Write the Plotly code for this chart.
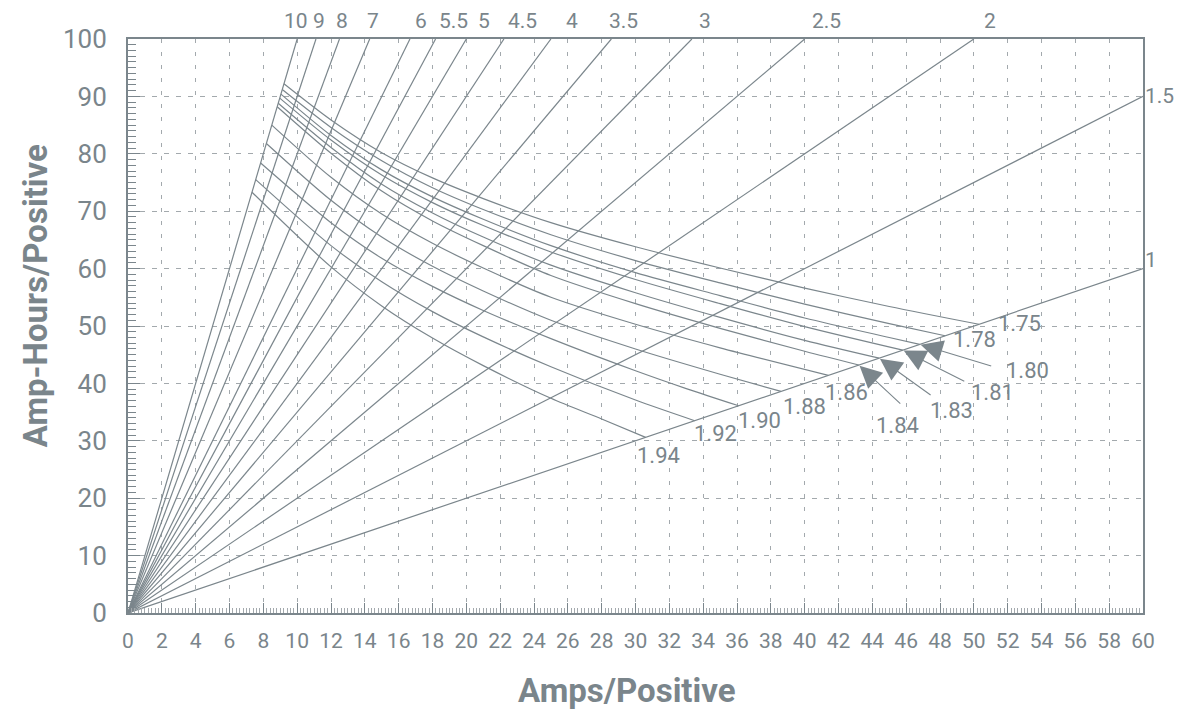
import plotly.graph_objects as go

# ---------------- data ----------------
hours = [10, 9, 8, 7, 6, 5.5, 5, 4.5, 4, 3.5, 3, 2.5, 2, 1.5, 1]
hour_labels = ["10", "9", "8", "7", "6", "5.5", "5", "4.5", "4", "3.5", "3", "2.5", "2", "1.5", "1"]

volt_labels = ["1.75", "1.78", "1.80", "1.81", "1.83", "1.84", "1.86", "1.88", "1.90", "1.92", "1.94"]

amps_175 = [9.22, 12, 15, 18, 21, 25, 30, 35, 40, 45, 50.3]
ah_175 = [92.2, 85.9, 80.2, 75.8, 72.2, 68.0, 63.8, 60.1, 56.6, 53.4, 50.3]
amps_178 = [9.12, 12, 15, 18, 21, 25, 30, 35, 40, 45, 48.3]
ah_178 = [91.2, 84.6, 78.8, 74.1, 70.3, 65.9, 61.4, 57.5, 53.8, 50.4, 48.3]
amps_180 = [9.04, 12, 15, 18, 21, 25, 30, 35, 40, 45, 46.8]
ah_180 = [90.4, 83.2, 77.2, 72.5, 68.6, 64.0, 59.3, 55.3, 51.4, 48.0, 46.8]
amps_181 = [8.97, 12, 15, 18, 21, 25, 30, 35, 40, 45.8]
ah_181 = [89.7, 82.4, 76.3, 71.5, 67.5, 62.9, 58.1, 53.9, 49.9, 45.8]
amps_183 = [8.88, 12, 15, 18, 21, 25, 30, 35, 40, 44.4]
ah_183 = [88.8, 81.1, 74.7, 69.7, 65.5, 60.6, 55.8, 51.5, 47.5, 44.4]
amps_184 = [8.82, 12, 15, 18, 21, 25, 30, 35, 40, 43.2]
ah_184 = [88.2, 80.1, 73.5, 68.3, 64.0, 58.8, 53.9, 49.6, 45.6, 43.2]
amps_186 = [8.5, 12, 15, 18, 21, 25, 30, 35, 41.4]
ah_186 = [85.0, 75.9, 69.5, 64.4, 60.1, 55.0, 50.3, 46.2, 41.4]
amps_188 = [8.18, 12, 15, 18, 21, 25, 30, 35, 38.6]
ah_188 = [81.8, 71.9, 65.5, 60.4, 56.1, 51.0, 46.0, 41.6, 38.6]
amps_190 = [7.84, 12, 15, 18, 21, 25, 30, 33, 36.1]
ah_190 = [78.4, 68.0, 61.8, 56.9, 52.7, 47.8, 42.2, 39.1, 36.1]
amps_192 = [7.55, 12, 15, 18, 21, 25, 30, 33.5]
ah_192 = [75.5, 64.0, 57.7, 52.5, 48.1, 42.9, 37.1, 33.5]
amps_194 = [7.33, 12, 15, 18, 21, 25, 28, 30.6]
ah_194 = [73.3, 60.3, 53.5, 47.9, 43.1, 37.4, 33.8, 30.6]

curves_amps = [amps_175, amps_178, amps_180, amps_181, amps_183, amps_184,
               amps_186, amps_188, amps_190, amps_192, amps_194]
curves_ah = [ah_175, ah_178, ah_180, ah_181, ah_183, ah_184,
             ah_186, ah_188, ah_190, ah_192, ah_194]

x_ticks = list(range(0, 61, 2))
y_ticks = list(range(0, 101, 10))
X_MAX, Y_MAX = 60, 100

# ---------------- style ----------------
GRAY = "#7b868c"
TXT = "#7a858b"
GRID = "#a3a9ad"
FONT = "Roboto, Liberation Sans, Arial, sans-serif"

# pixel offsets of the hour labels (layout only)
hour_label_xshift = [-1, 3, 3, 3, 11, 18, 18, 19, 21, 12, 13, 22, 16, 14, 10]

fig = go.Figure()

# radial hour lines
for h in hours:
    x_end = min(X_MAX, Y_MAX / h)
    fig.add_trace(go.Scatter(x=[0, x_end], y=[0, h * x_end], mode="lines",
                             line=dict(color=GRAY, width=1.2), hoverinfo="skip",
                             showlegend=False))

# voltage curves
for xs, ys in zip(curves_amps, curves_ah):
    fig.add_trace(go.Scatter(x=xs, y=ys, mode="lines",
                             line=dict(color=GRAY, width=1.2, shape="spline", smoothing=0.8),
                             hoverinfo="skip", showlegend=False))

annotations = []
# hour labels
for h, lab, dx in zip(hours, hour_labels, hour_label_xshift):
    if Y_MAX / h <= X_MAX:
        annotations.append(dict(x=Y_MAX / h, y=Y_MAX, text=lab, showarrow=False,
                                xanchor="center", yanchor="middle",
                                xshift=dx, yshift=18, font=dict(size=21, color=TXT, family=FONT)))
    else:
        annotations.append(dict(x=X_MAX, y=h * X_MAX, text=lab, showarrow=False,
                                xanchor="left", yanchor="middle", xshift=0,
                                yshift=9 if h == 1 else 0,
                                font=dict(size=21, color=TXT, family=FONT)))

# voltage labels (positions in data units, layout only)
volt_label_pos = [(52.7, 50.5), (50.05, 47.6), (53.2, 42.3), (51.1, 38.5), (48.7, 35.35),
                  (45.5, 32.7), (42.5, 38.4), (40.0, 35.9), (37.35, 33.6), (34.7, 31.3), (31.35, 27.5)]
for lab, (lx, ly) in zip(volt_labels, volt_label_pos):
    annotations.append(dict(x=lx, y=ly, text=lab, showarrow=False,
                            xanchor="center", yanchor="middle",
                            font=dict(size=22, color=TXT, family=FONT)))

# arrows for the crowded labels (tail offsets in px)
arrow_tail = {"1.80": (73, 22), "1.81": (63, 32), "1.83": (53, 38), "1.84": (43, 40)}
for lab, xs, ys in zip(volt_labels, curves_amps, curves_ah):
    if lab in arrow_tail:
        ax, ay = arrow_tail[lab]
        annotations.append(dict(x=xs[-1], y=ys[-1], text="", showarrow=True,
                                ax=ax, ay=ay, arrowhead=2, arrowsize=4, arrowwidth=1.1,
                                arrowcolor=GRAY, standoff=1))

# axis titles
annotations.append(dict(xref="paper", yref="paper", x=-0.0916, y=0.552,
                        xanchor="center", yanchor="middle",
                        text="<b>Amp-Hours/Positive</b>", textangle=-90, showarrow=False,
                        font=dict(size=33, color=TXT, family=FONT)))
annotations.append(dict(xref="paper", yref="paper", x=0.492, y=-0.135,
                        xanchor="center", yanchor="middle",
                        text="<b>Amps/Positive</b>", showarrow=False,
                        font=dict(size=33, color=TXT, family=FONT)))

fig.update_layout(
    width=1177, height=712,
    margin=dict(l=128, r=33.5, t=39.3, b=99.3, autoexpand=False),
    paper_bgcolor="white", plot_bgcolor="white",
    showlegend=False,
    annotations=annotations,
    xaxis=dict(range=[0, X_MAX], tickvals=x_ticks, ticks="inside", ticklen=10,
               tickcolor=GRAY, tickwidth=1, showline=True, linecolor=GRAY, linewidth=2,
               mirror=True, showgrid=True, gridcolor=GRID, griddash="4px,9px", gridwidth=1,
               zeroline=False, tickfont=dict(size=21, color=TXT, family=FONT),
               ticklabelstandoff=8,
               minor=dict(dtick=0.2, ticks="inside", ticklen=5, tickcolor=GRID, showgrid=False)),
    yaxis=dict(range=[0, Y_MAX], tickvals=y_ticks, ticks="inside", ticklen=12,
               tickcolor=GRAY, tickwidth=1, showline=True, linecolor=GRAY, linewidth=2,
               mirror=True, showgrid=True, gridcolor=GRID, griddash="5px,7px", gridwidth=1,
               zeroline=False, tickfont=dict(size=26, color=TXT, family=FONT),
               ticklabelstandoff=14,
               minor=dict(dtick=1, ticks="inside", ticklen=8, tickcolor=GRAY, showgrid=False)),
)

# remove the default 8px page margin so the figure fills the window exactly
fig.write_html("out.html", config={"displayModeBar": False},
               post_script="document.body.style.margin='0';document.body.style.overflow='hidden';")
